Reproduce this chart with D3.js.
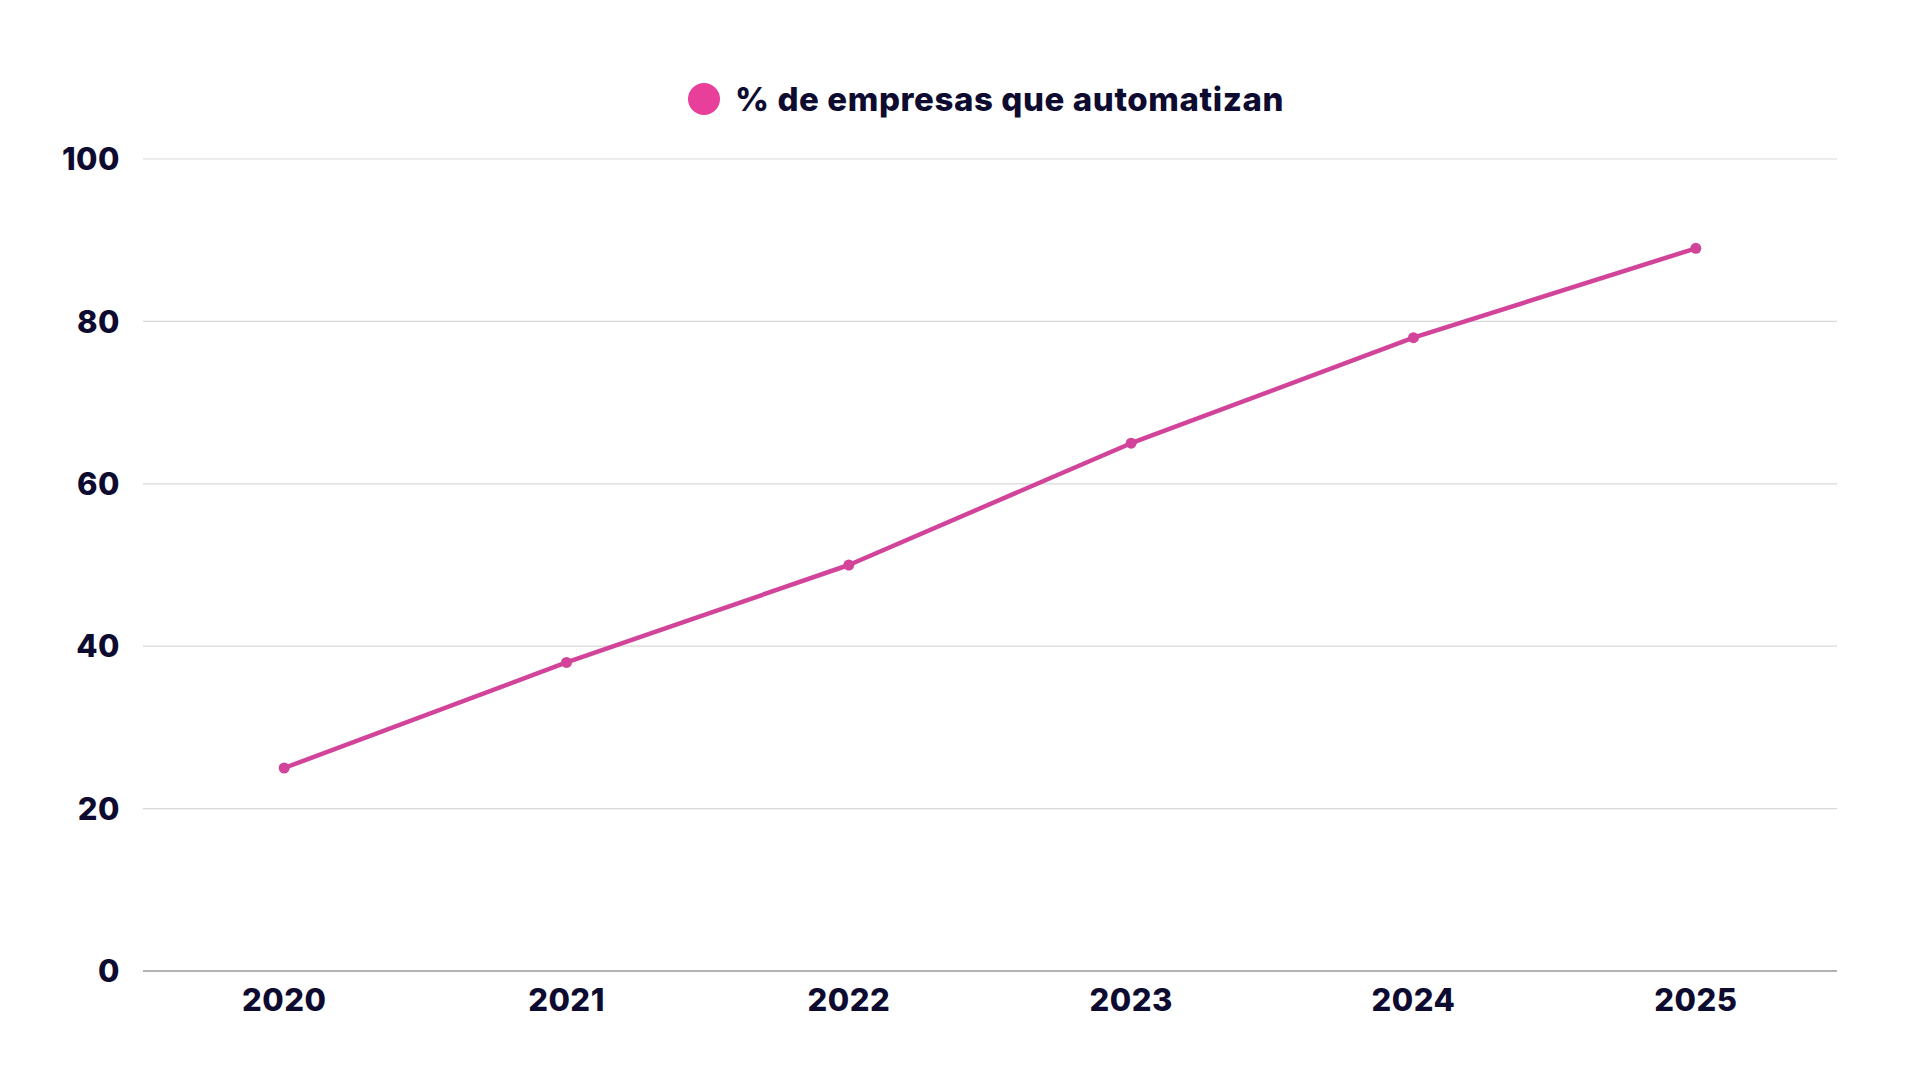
<!DOCTYPE html>
<html>
<head>
<meta charset="utf-8">
<script src="https://cdn.jsdelivr.net/npm/d3@7"></script>
<style>
  html, body { margin: 0; padding: 0; background: #fff; }
  svg { display: block; font-family: Inter, "Open Sans", sans-serif; }
</style>
</head>
<body>
<div id="chart"></div>
<script>
// data
var years = ["2020", "2021", "2022", "2023", "2024", "2025"];
var share = [25, 38, 50, 65, 78, 89];
var yTicks = [0, 20, 40, 60, 80, 100];
var seriesName = "% de empresas que automatizan";

var width = 1920, height = 1080;
var margin = {top: 159, right: 83, bottom: 109, left: 143};
var innerW = width - margin.left - margin.right,
    innerH = height - margin.top - margin.bottom;

var ink = "#0e0b30";
var lineColor = "#d2449a";

var svg = d3.select("#chart").append("svg")
  .attr("width", width)
  .attr("height", height);

var g = svg.append("g")
  .attr("transform", "translate(" + margin.left + "," + margin.top + ")");

var x = d3.scalePoint().domain(years).range([0, innerW]).padding(0.5);
var y = d3.scaleLinear().domain([0, 100]).range([innerH, 0]);

// gridlines
g.selectAll(".grid")
  .data(yTicks.filter(function(d) { return d > 0; }))
  .enter().append("line")
  .attr("x1", 0).attr("x2", innerW)
  .attr("y1", function(d) { return y(d); })
  .attr("y2", function(d) { return y(d); })
  .attr("stroke", "#d9d9d9")
  .attr("stroke-width", 1.2);

// baseline
g.append("line")
  .attr("x1", 0).attr("x2", innerW)
  .attr("y1", y(0)).attr("y2", y(0))
  .attr("stroke", "#9a9a9a")
  .attr("stroke-width", 1.5);

// y labels
g.selectAll(".ylab")
  .data(yTicks)
  .enter().append("text")
  .attr("x", -23)
  .attr("y", function(d) { return y(d); })
  .attr("dy", "0.36em")
  .attr("text-anchor", "end")
  .attr("font-size", 31)
  .attr("font-weight", 800)
  .attr("letter-spacing", 0.5)
  .attr("fill", ink)
  .text(function(d) { return d; });

// x labels
g.selectAll(".xlab")
  .data(years)
  .enter().append("text")
  .attr("x", function(d) { return x(d); })
  .attr("y", innerH + 29)
  .attr("dy", "0.36em")
  .attr("text-anchor", "middle")
  .attr("font-size", 31)
  .attr("font-weight", 800)
  .attr("letter-spacing", 0.5)
  .attr("fill", ink)
  .text(function(d) { return d; });

var pts = years.map(function(yr, i) { return {year: yr, value: share[i]}; });

var line = d3.line()
  .x(function(d) { return x(d.year); })
  .y(function(d) { return y(d.value); });

g.append("path")
  .datum(pts)
  .attr("fill", "none")
  .attr("stroke", lineColor)
  .attr("stroke-width", 4.5)
  .attr("stroke-linejoin", "round")
  .attr("d", line);

g.selectAll(".pt")
  .data(pts)
  .enter().append("circle")
  .attr("cx", function(d) { return x(d.year); })
  .attr("cy", function(d) { return y(d.value); })
  .attr("r", 5.5)
  .attr("fill", lineColor);

// legend
var legend = svg.append("g");
legend.append("circle")
  .attr("cx", 704).attr("cy", 99).attr("r", 16)
  .attr("fill", "#e8409a");
legend.append("text")
  .attr("x", 735).attr("y", 99)
  .attr("dy", "0.36em")
  .attr("font-size", 33)
  .attr("font-weight", 800)
  .attr("letter-spacing", 0.6)
  .attr("fill", ink)
  .text(seriesName);
</script>
</body>
</html>
